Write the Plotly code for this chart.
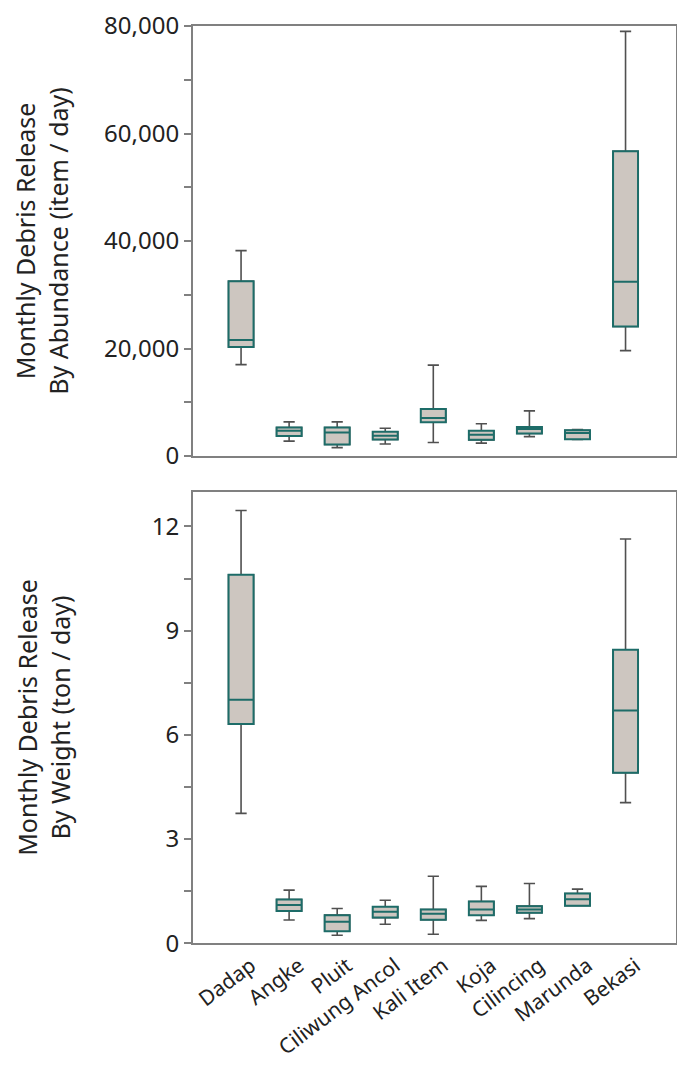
import plotly.graph_objects as go

# sites along the coast
sites = ["Dadap", "Angke", "Pluit", "Ciliwung Ancol", "Kali Item",
         "Koja", "Cilincing", "Marunda", "Bekasi"]

# monthly debris release by abundance (item / day)
abund_low = [17000, 2760, 1560, 2220, 2520, 2400, 3600, 3100, 19600]
abund_q1 = [20300, 3720, 2160, 3060, 6300, 3000, 4200, 3120, 24100]
abund_med = [21600, 4680, 4380, 3780, 7080, 3960, 5040, 4300, 32400]
abund_q3 = [32500, 5280, 5280, 4500, 8760, 4680, 5400, 4800, 56700]
abund_high = [38200, 6350, 6350, 5160, 16900, 6000, 8400, 4900, 79000]

# monthly debris release by weight (ton / day)
weight_low = [3.74, 0.67, 0.23, 0.55, 0.26, 0.66, 0.71, 1.08, 4.05]
weight_q1 = [6.31, 0.93, 0.35, 0.74, 0.68, 0.81, 0.88, 1.08, 4.91]
weight_med = [7.01, 1.10, 0.62, 0.91, 0.85, 0.97, 0.97, 1.27, 6.70]
weight_q3 = [10.61, 1.26, 0.81, 1.05, 0.97, 1.20, 1.07, 1.43, 8.45]
weight_high = [12.46, 1.53, 1.00, 1.24, 1.93, 1.64, 1.72, 1.56, 11.64]

FILL = "#cdc6c0"
TEAL = "#1d6c68"
WHISK = "#505050"
AXIS = "#808080"
FONT = "Noto Sans"
TXT = "#222222"

# page body adds an 8px margin, so the figure is a bit smaller than the window
W, H = 669, 1053


def add_boxes(fig, low, q1, med, q3, high, xa, ya):
    # whiskers in dark grey with caps
    fig.add_trace(go.Box(x=sites, q1=q1, median=med, q3=q3,
                         lowerfence=low, upperfence=high,
                         xaxis=xa, yaxis=ya, width=0.52, whiskerwidth=0.45,
                         fillcolor=FILL, line=dict(color=WHISK, width=1.6),
                         boxpoints=False, hoverinfo="skip", showlegend=False))
    # box outline + median in teal on top
    fig.add_trace(go.Box(x=sites, q1=q1, median=med, q3=q3,
                         lowerfence=q1, upperfence=q3,
                         xaxis=xa, yaxis=ya, width=0.52, whiskerwidth=0,
                         fillcolor=FILL, line=dict(color=TEAL, width=2),
                         boxpoints=False, hoverinfo="skip", showlegend=False))


fig = go.Figure()
add_boxes(fig, abund_low, abund_q1, abund_med, abund_q3, abund_high, "x", "y")
add_boxes(fig, weight_low, weight_q1, weight_med, weight_q3, weight_high, "x2", "y2")

xdom = [185 / W, 668 / W]
common_x = dict(domain=xdom, range=[-1, 9.05], showline=True, mirror=True,
                linecolor=AXIS, linewidth=2, ticks="", showgrid=False,
                zeroline=False, automargin=False)
common_y = dict(showline=True, mirror=True, linecolor=AXIS, linewidth=2,
                ticks="outside", ticklen=7, tickwidth=2, tickcolor=AXIS,
                showgrid=False, zeroline=False, automargin=False,
                ticklabeloverflow="allow",
                tickfont=dict(size=24, color=TXT, family=FONT),
                title_font=dict(size=25, color=TXT, family=FONT))

fig.update_layout(
    width=W, height=H,
    margin=dict(l=0, r=0, t=0, b=0),
    paper_bgcolor="white", plot_bgcolor="white",
    font=dict(family=FONT, color=TXT),
    boxmode="overlay",
    xaxis=dict(common_x, anchor="y", showticklabels=False),
    yaxis=dict(common_y, domain=[1 - 448 / H, 1 - 18 / H],
               anchor="x", range=[0, 80000], dtick=20000, tickformat=",",
               minor=dict(dtick=10000, ticks="outside", ticklen=7,
                          tickwidth=2, tickcolor=AXIS),
               title=dict(text="Monthly Debris Release<br>By Abundance (item / day)",
                          standoff=44)),
    xaxis2=dict(common_x, anchor="y2", showticklabels=True, tickangle=-37,
                ticklabeloverflow="allow", ticklabelshift=10,
                tickfont=dict(size=21, color=TXT, family=FONT)),
    yaxis2=dict(common_y, domain=[1 - 935.3 / H, 1 - 483.7 / H],
                anchor="x2", range=[0, 13], tickvals=[0, 3, 6, 9, 12],
                minor=dict(tickvals=[1.5, 4.5, 7.5, 10.5], ticks="outside",
                           ticklen=7, tickwidth=2, tickcolor=AXIS),
                title=dict(text="Monthly Debris Release<br>By Weight (ton / day)",
                           standoff=74)),
)

fig.write_html("out.html")
